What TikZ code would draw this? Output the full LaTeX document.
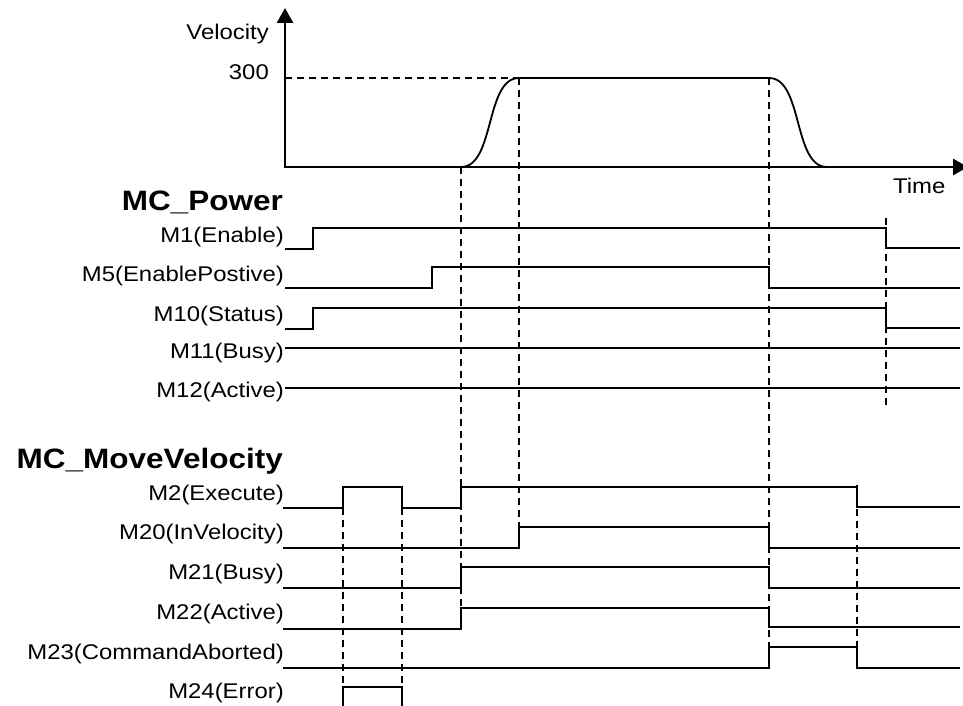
\documentclass[tikz,border=0pt]{standalone}
\usepackage{fontspec}
\setmainfont{Liberation Sans}
\usepackage{graphicx}
\usetikzlibrary{arrows.meta}
\newcommand{\vsq}[1]{\scalebox{1}[0.89]{#1}}
\begin{document}
\begin{tikzpicture}[x=1pt,y=-1pt,
  lbl/.style={anchor=base east, inner sep=0pt, font=\fontsize{23.9}{28}\selectfont},
  ttl/.style={anchor=base east, inner sep=0pt, font=\fontsize{31.5}{36}\selectfont\bfseries},
  sig/.style={line width=1.8pt, line join=miter},
  axis/.style={line width=2.8pt, line join=miter, {Triangle[width=16pt,length=15pt]}-{Triangle[width=16pt,length=15pt]}},
  guide/.style={line width=1.8pt, dash pattern=on 7pt off 5pt},
]
\fill[white] (0,0) rectangle (963,706);
\useasboundingbox (0,0) rectangle (963,706);

% axes
\draw[axis] (285,8) -- (285,167) -- (968,167);
\node[lbl] (vel) at (269,40) {\vsq{Velocity}};
\node[lbl] (v300) at (269,80) {\vsq{300}};
\node[lbl, anchor=base west] (time) at (893,193) {\vsq{Time}};

% velocity profile
\draw[guide] (285,78) -- (519,78);
\draw[sig] (461,167) .. controls (495,167) and (485,78) .. (519,78) -- (769,78)
  .. controls (803,78) and (793,167) .. (827,167);

% guide lines
\draw[guide] (461,167) -- (461,629);
\draw[guide] (519,78) -- (519,548);
\draw[guide] (769,78) -- (769,668);
\draw[guide] (886,218) -- (886,408);
\draw[guide] (857,485) -- (857,668);
\draw[guide] (343,508) -- (343,706);
\draw[guide] (402,508) -- (402,706);

% MC_Power
\node[ttl] (pw) at (283,210) {\vsq{MC\_Power}};
\node[lbl] (m1) at (284,242) {\vsq{M1(Enable)}};
\node[lbl] (m5) at (284,281) {\vsq{M5(EnablePostive)}};
\node[lbl] (m10) at (284,321) {\vsq{M10(Status)}};
\node[lbl] (m11) at (284,358) {\vsq{M11(Busy)}};
\node[lbl] (m12) at (284,397) {\vsq{M12(Active)}};
\draw[sig] (285,249) -- (313,249) -- (313,228) -- (886,228) -- (886,248) -- (960,248);
\draw[sig] (285,288) -- (432,288) -- (432,267) -- (769,267) -- (769,288) -- (960,288);
\draw[sig] (285,329) -- (313,329) -- (313,308) -- (886,308) -- (886,328) -- (960,328);
\draw[sig] (285,348) -- (960,348);
\draw[sig] (285,388) -- (960,388);

% MC_MoveVelocity
\node[ttl] (mv) at (283,468) {\vsq{MC\_MoveVelocity}};
\node[lbl] (m2) at (284,500) {\vsq{M2(Execute)}};
\node[lbl] (m20) at (284,539) {\vsq{M20(InVelocity)}};
\node[lbl] (m21) at (284,579) {\vsq{M21(Busy)}};
\node[lbl] (m22) at (284,619) {\vsq{M22(Active)}};
\node[lbl] (m23) at (284,659) {\vsq{M23(CommandAborted)}};
\node[lbl] (m24) at (284,698) {\vsq{M24(Error)}};
\draw[sig] (283,508) -- (343,508) -- (343,487) -- (402,487) -- (402,508) -- (461,508)
  -- (461,487) -- (857,487) -- (857,507) -- (960,507);
\draw[sig] (283,548) -- (519,548) -- (519,527) -- (769,527) -- (769,548) -- (960,548);
\draw[sig] (283,588) -- (461,588) -- (461,567) -- (769,567) -- (769,588) -- (960,588);
\draw[sig] (283,629) -- (461,629) -- (461,608) -- (769,608) -- (769,627) -- (960,627);
\draw[sig] (283,668) -- (769,668) -- (769,647) -- (857,647) -- (857,668) -- (960,668);
\draw[sig] (343,706) -- (343,687) -- (402,687) -- (402,706);
\end{tikzpicture}
\end{document}
